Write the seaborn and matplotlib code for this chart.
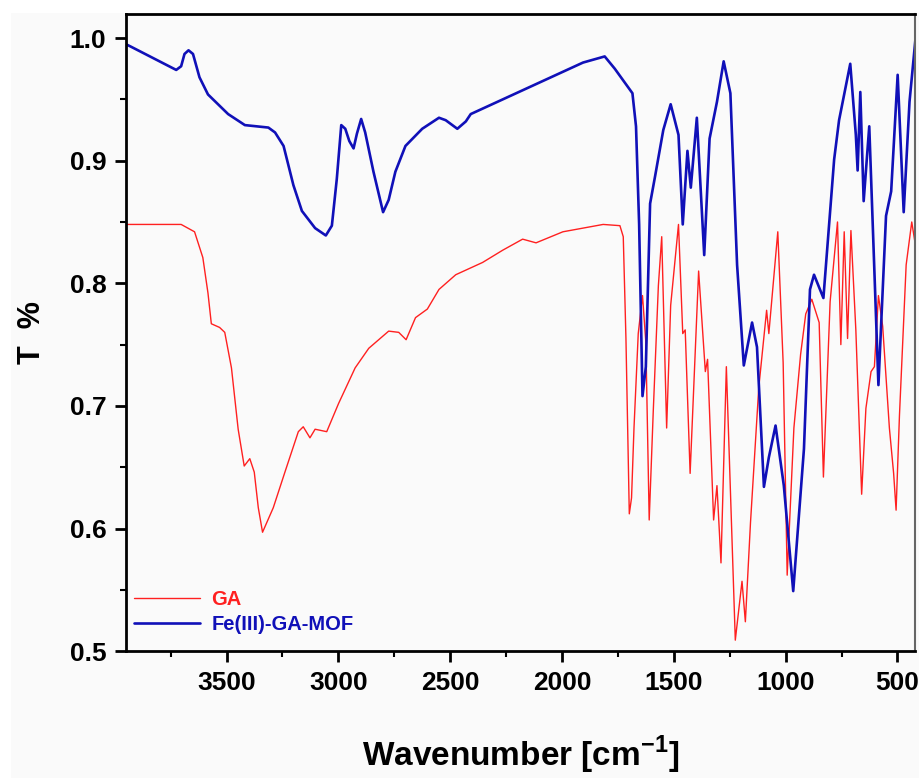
import numpy as np
import pandas as pd
import seaborn as sns
import matplotlib.pyplot as plt
from matplotlib.ticker import MultipleLocator
from matplotlib.patches import Rectangle

# Fe(III)-GA-MOF spectrum (wavenumber, transmittance)
mof_wn = [3950, 3928, 3725, 3703, 3688, 3670, 3650, 3621, 3583, 3493, 3418, 3313, 3283,
          3245, 3201, 3163, 3104, 3056, 3029, 3007, 2987, 2969, 2951, 2932, 2917, 2898,
          2880, 2843, 2800, 2775, 2745, 2700, 2625, 2550, 2520, 2468, 2430, 2408, 1906,
          1809, 1764, 1685, 1669, 1655, 1640, 1625, 1606, 1584, 1547, 1514, 1479, 1460,
          1439, 1424, 1397, 1364, 1340, 1307, 1277, 1247, 1217, 1187, 1150, 1128, 1097,
          1075, 1045, 1008, 966, 918, 891, 873, 831, 783, 761, 711, 686, 678, 666, 651,
          626, 585, 551, 528, 499, 472, 446, 420, 411, 401]
mof_t = [0.995, 0.993, 0.974, 0.977, 0.987, 0.990, 0.987, 0.968, 0.954, 0.938, 0.929,
         0.927, 0.923, 0.912, 0.880, 0.859, 0.845, 0.839, 0.847, 0.885, 0.929, 0.926,
         0.916, 0.910, 0.922, 0.934, 0.923, 0.891, 0.858, 0.868, 0.891, 0.912, 0.926,
         0.935, 0.933, 0.926, 0.932, 0.938, 0.980, 0.985, 0.975, 0.955, 0.928, 0.848,
         0.708, 0.732, 0.865, 0.887, 0.925, 0.946, 0.921, 0.848, 0.908, 0.878, 0.935,
         0.823, 0.918, 0.948, 0.981, 0.955, 0.815, 0.733, 0.768, 0.748, 0.634, 0.658,
         0.684, 0.635, 0.549, 0.665, 0.795, 0.807, 0.788, 0.901, 0.933, 0.979, 0.921,
         0.892, 0.956, 0.867, 0.928, 0.717, 0.855, 0.875, 0.970, 0.858, 0.948, 0.998,
         0.965, 0.981]

# GA spectrum
ga_wn = [3950, 3703, 3643, 3606, 3583, 3568, 3531, 3508, 3478, 3448, 3421, 3396, 3376,
         3358, 3339, 3291, 3239, 3179, 3157, 3127, 3104, 3052, 2999, 2925, 2864, 2775,
         2730, 2697, 2655, 2602, 2550, 2475, 2355, 2265, 2176, 2116, 1996, 1906, 1816,
         1741, 1726, 1714, 1699, 1689, 1678, 1659, 1640, 1625, 1610, 1592, 1569, 1554,
         1532, 1514, 1479, 1460, 1449, 1427, 1389, 1359, 1349, 1322, 1307, 1289, 1265,
         1225, 1195, 1180, 1157, 1120, 1085, 1075, 1035, 1011, 993, 963, 933, 910, 883,
         850, 831, 801, 768, 753, 738, 723, 708, 686, 660, 641, 618, 603, 585, 566, 536,
         517, 506, 491, 461, 436, 416, 400]
ga_t = [0.848, 0.848, 0.842, 0.821, 0.792, 0.767, 0.764, 0.760, 0.731, 0.681, 0.651,
        0.657, 0.646, 0.617, 0.597, 0.617, 0.646, 0.679, 0.683, 0.674, 0.681, 0.679,
        0.702, 0.731, 0.747, 0.761, 0.760, 0.754, 0.772, 0.779, 0.795, 0.807, 0.817,
        0.827, 0.836, 0.833, 0.842, 0.845, 0.848, 0.847, 0.838, 0.755, 0.612, 0.625,
        0.682, 0.759, 0.790, 0.752, 0.607, 0.695, 0.798, 0.838, 0.682, 0.782, 0.848,
        0.759, 0.762, 0.645, 0.810, 0.728, 0.738, 0.607, 0.635, 0.572, 0.732, 0.509,
        0.557, 0.524, 0.605, 0.715, 0.778, 0.759, 0.842, 0.735, 0.562, 0.682, 0.742,
        0.775, 0.787, 0.768, 0.642, 0.785, 0.850, 0.750, 0.842, 0.755, 0.843, 0.762,
        0.628, 0.698, 0.728, 0.732, 0.790, 0.765, 0.682, 0.645, 0.615, 0.692, 0.815,
        0.850, 0.827, 0.847]

x_ticks = [3500, 3000, 2500, 2000, 1500, 1000, 500]
y_ticks = [0.5, 0.6, 0.7, 0.8, 0.9, 1.0]

ga = pd.DataFrame({'wn': ga_wn, 'T': ga_t})
mof = pd.DataFrame({'wn': mof_wn, 'T': mof_t})

sns.set_style('ticks')
plt.rcParams['font.family'] = ['Liberation Sans', 'DejaVu Sans']
plt.rcParams['font.weight'] = 'bold'
plt.rcParams['mathtext.fontset'] = 'custom'
plt.rcParams['mathtext.bf'] = 'Liberation Sans:bold'
plt.rcParams['text.color'] = 'black'
plt.rcParams['axes.labelcolor'] = 'black'
plt.rcParams['xtick.color'] = 'black'
plt.rcParams['ytick.color'] = 'black'

fig = plt.figure(figsize=(9.19, 7.78), dpi=100, facecolor='white')
# light grey panel behind the plot (small white margin top/left)
fig.patches.append(Rectangle((11 / 919, 0), 1, 1 - 13 / 778, transform=fig.transFigure,
                             facecolor='#fafafa', edgecolor='none', zorder=-10))
ax = fig.add_axes([0.137, 0.163, 0.859, 0.819])
ax.set_facecolor('#fafafa')

sns.lineplot(data=ga, x='wn', y='T', sort=False, estimator=None, color='#ff2020',
             linewidth=1.0, label='GA', ax=ax)
sns.lineplot(data=mof, x='wn', y='T', sort=False, estimator=None, color='#1010b8',
             linewidth=1.9, label='Fe(III)-GA-MOF', ax=ax)

ax.set_xlim(3950, 420)
ax.set_ylim(0.5, 1.0196)
ax.set_xticks(x_ticks)
ax.set_yticks(y_ticks)
ax.xaxis.set_minor_locator(MultipleLocator(250))
ax.yaxis.set_minor_locator(MultipleLocator(0.05))
ax.set_xticklabels([str(v) for v in x_ticks], fontsize=19, fontweight='bold')
ax.set_yticklabels([f'{v:.1f}' for v in y_ticks], fontsize=19, fontweight='bold')
ax.tick_params(which='major', direction='out', length=8, width=2, pad=6)
ax.tick_params(which='minor', direction='out', length=4.5, width=1.5)
for s in ax.spines.values():
    s.set_linewidth(2)
    s.set_color('black')
ax.spines['right'].set_color('#666666')
ax.spines['right'].set_linewidth(1.5)

ax.set_xlabel('Wavenumber [cm$^{\\mathbf{-1}}$]', fontsize=24, fontweight='bold', labelpad=28)
ax.set_ylabel('T  %', fontsize=22, fontweight='bold', labelpad=16)

leg = ax.legend(loc='lower left', bbox_to_anchor=(0.005, 0.02), frameon=False,
                handlelength=3.3, handletextpad=0.55, borderaxespad=0, borderpad=0.2,
                labelspacing=0.3, prop={'weight': 'bold', 'size': 14.5})
for txt, c in zip(leg.get_texts(), ['#ff2020', '#1010b8']):
    txt.set_color(c)

fig.savefig('out.png', dpi=100, facecolor='white')
